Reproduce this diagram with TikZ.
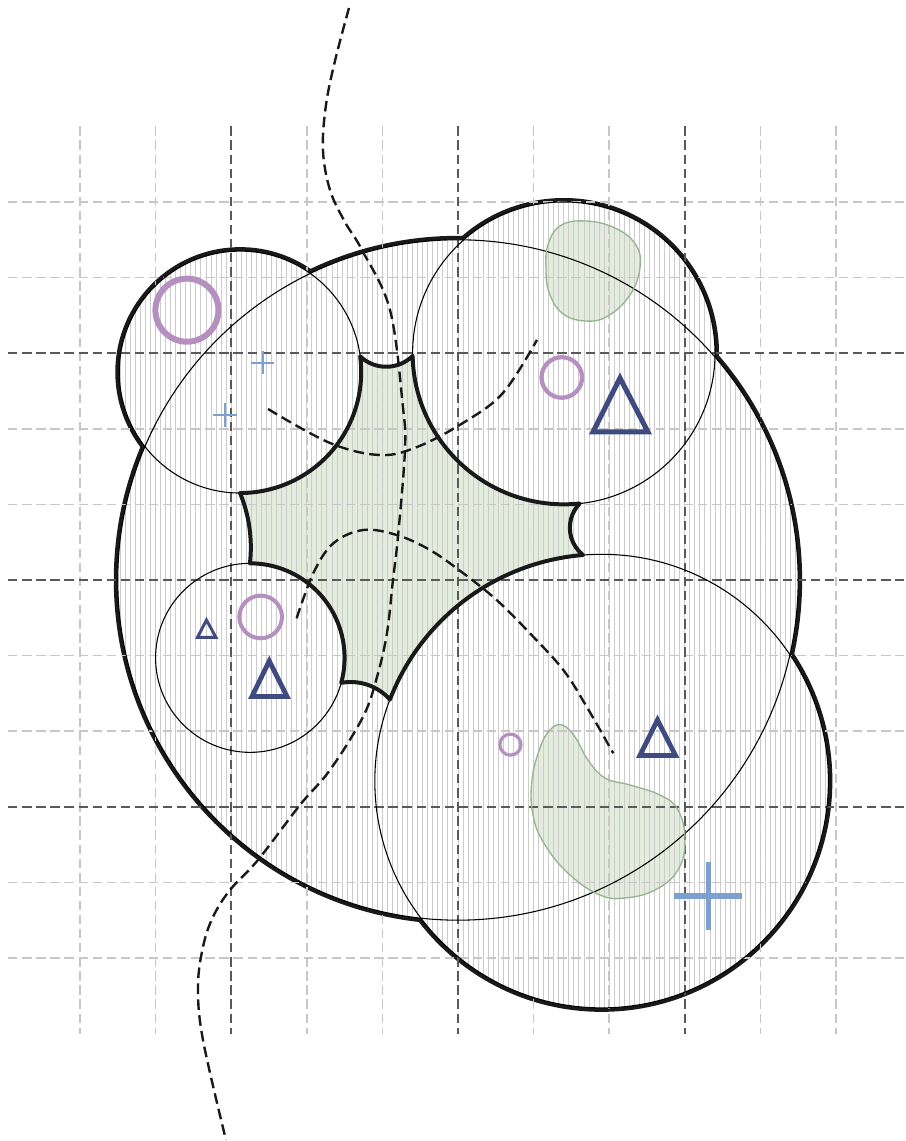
\documentclass[tikz,border=0pt]{standalone}
\definecolor{lilac}{RGB}{180,143,192}
\definecolor{navy}{RGB}{62,74,128}
\definecolor{skyblue}{RGB}{124,160,208}
\definecolor{leaf}{RGB}{227,236,221}
\definecolor{leafline}{RGB}{150,180,145}
\newcommand{\bodyunion}{(0,0) circle[radius=4.5] (-2.88,2.75) circle[radius=1.6]
  (1.4,3) circle[radius=2] (1.9,-2.66) circle[radius=3]}
\newcommand{\starpath}{(-1.293,2.957) arc[start angle=226.63,end angle=314.43,radius=0.5]
  arc[start angle=181.06,end angle=276.04,radius=2]
  arc[start angle=135.74,end angle=231.53,radius=0.46]
  arc[start angle=94.71,end angle=158.94,radius=3]
  arc[start angle=41.97,end angle=100.26,radius=0.7]
  arc[start angle=-15.36,end angle=90.08,radius=1.25]
  arc[start angle=-6.38,end angle=22.39,radius=1.89]
  arc[start angle=-90.09,end angle=7.43,radius=1.6] -- cycle}
\newcommand{\blobtop}{plot[smooth cycle,tension=0.7] coordinates {(1.190,4.431) (1.349,4.683) (1.680,4.749) (2.077,4.656) (2.354,4.431) (2.407,4.127) (2.275,3.770) (1.984,3.492) (1.680,3.426) (1.376,3.532) (1.204,3.810) (1.164,4.127)}}
\newcommand{\blobbottom}{plot[smooth cycle,tension=0.7] coordinates {(1.376,-1.918) (1.217,-1.984) (1.085,-2.222) (0.979,-2.646) (0.992,-3.108) (1.151,-3.505) (1.481,-3.902) (1.878,-4.167) (2.209,-4.206) (2.606,-4.101) (2.910,-3.836) (3.003,-3.439) (2.910,-3.042) (2.672,-2.844) (2.275,-2.712) (1.944,-2.619) (1.720,-2.381) (1.548,-2.077)}}
\begin{document}
\begin{tikzpicture}[
    gridlight/.style={dash pattern=on 3.5pt off 1.8pt,line width=0.6pt,black!22},
    griddark/.style={dash pattern=on 3.5pt off 1.8pt,line width=0.6pt,black!65},
    hatch/.style={line width=0.35pt,black!20},
    outline/.style={line width=0.4pt,black},
    starline/.style={line width=1.5pt,black!90,line join=round},
    dashcurve/.style={dash pattern=on 4pt off 2pt,line width=0.9pt,black!90},
    ring/.style={lilac,line width=#1},
    tri/.style={navy,line width=#1,line join=miter},
    cross/.style={skyblue,line width=#1}]
    \useasboundingbox (-6.058,-7.421) rectangle (5.926,7.672);
    % outer contour of the union
    \draw[line width=3pt,black!90] \bodyunion;
    \fill[white] \bodyunion;
    \fill[leaf] \starpath;
    \fill[leaf] \blobtop;
    \fill[leaf] \blobbottom;
    \begin{scope}
        \clip \bodyunion;
        \foreach \i in {-90,...,90}
            \draw[hatch] (\i/15,-6) -- (\i/15,6);
    \end{scope}
    % grid
    \foreach \i in {-5,-4,-2,-1,1,2,4,5} {
        \draw[gridlight] (\i,6) -- (\i,-6);
        \draw[gridlight] (-5.95,\i) -- (5.9,\i);
    }
    \foreach \i in {-3,0,3} {
        \draw[griddark] (\i,6) -- (\i,-6);
        \draw[griddark] (-5.95,\i) -- (5.9,\i);
    }
    \draw[outline] (0,0) circle[radius=4.5];
    \draw[outline] (-2.88,2.75) circle[radius=1.6];
    \draw[outline] (1.4,3) circle[radius=2];
    \draw[outline] (-2.75,-1.03) circle[radius=1.25];
    \draw[outline] (1.9,-2.66) circle[radius=3];
    \draw[starline] \starpath;
    \draw[leafline,line width=0.5pt] \blobtop;
    \draw[leafline,line width=0.5pt] \blobbottom;
    % dashed paths
    \draw[dashcurve] plot[smooth,tension=0.6] coordinates {(-1.442,7.566) (-1.624,6.878) (-1.746,6.283) (-1.786,5.688) (-1.693,5.159) (-1.495,4.735) (-1.270,4.365) (-0.899,3.571) (-0.728,2.288) (-0.701,1.720) (-0.794,0.569) (-0.860,0) (-0.939,-0.701) (-1.071,-1.283) (-1.257,-1.812) (-1.693,-2.513) (-2.090,-2.976) (-2.646,-3.704) (-3.016,-4.101) (-3.241,-4.458) (-3.373,-4.854) (-3.439,-5.384) (-3.373,-6.085) (-3.069,-7.407)};
    \draw[dashcurve] plot[smooth,tension=0.6] coordinates {(-2.513,2.262) (-1.693,1.812) (-1.032,1.653) (-0.542,1.759) (0.066,2.077) (0.595,2.474) (1.045,3.175)};
    \draw[dashcurve] plot[smooth,tension=0.6] coordinates {(-2.134,-0.507) (-1.914,0.089) (-1.649,0.485) (-1.253,0.661) (-0.811,0.595) (-0.370,0.397) (0.070,0.089) (0.512,-0.265) (0.952,-0.705) (1.393,-1.190) (1.702,-1.676) (2.054,-2.292)};
    % marks
    \draw[ring=2.25pt] (-3.585,3.569) circle[radius=0.417];
    \draw[ring=1.6pt] (1.373,2.679) circle[radius=0.268];
    \draw[ring=1.5pt] (-2.610,-0.489) circle[radius=0.282];
    \draw[ring=1.2pt] (0.694,-2.178) circle[radius=0.139];
    \draw[tri=1.9pt] (2.143,2.672) -- (1.786,1.958) -- (2.513,1.958) -- cycle;
    \draw[tri=1.1pt] (-3.327,-0.529) -- (-3.446,-0.760) -- (-3.201,-0.760) -- cycle;
    \draw[tri=1.8pt] (-2.496,-1.071) -- (-2.725,-1.541) -- (-2.262,-1.541) -- cycle;
    \draw[tri=1.8pt] (2.639,-1.852) -- (2.407,-2.321) -- (2.877,-2.321) -- cycle;
    \draw[cross=2pt] (2.861,-4.180) -- (3.761,-4.180) (3.311,-3.730) -- (3.311,-4.630);
    \draw[cross=0.9pt] (-2.738,2.874) -- (-2.428,2.874) (-2.583,3.029) -- (-2.583,2.719);
    \draw[cross=0.9pt] (-3.241,2.183) -- (-2.923,2.183) (-3.082,2.342) -- (-3.082,2.024);
\end{tikzpicture}
\end{document}
